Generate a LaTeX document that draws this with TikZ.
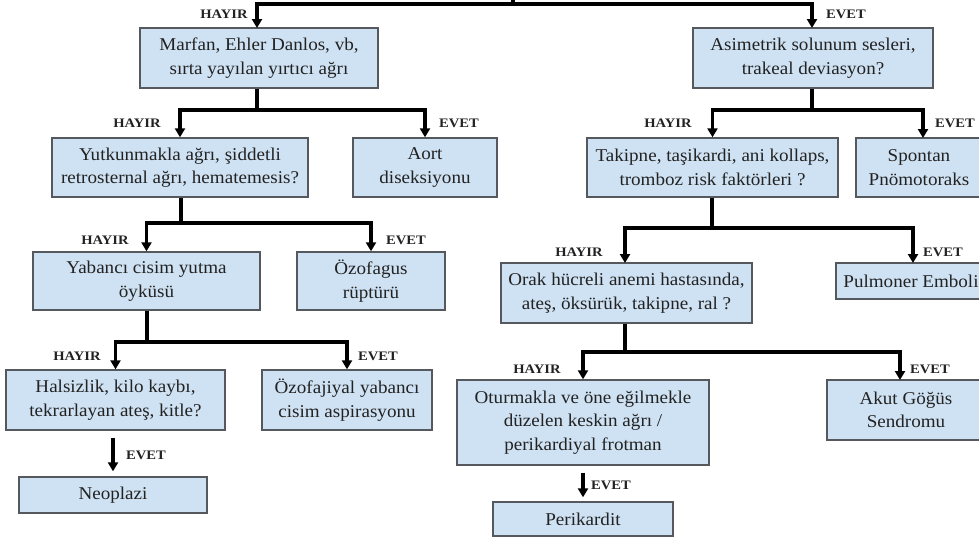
\documentclass[tikz,border=0pt]{standalone}
\usepackage{fontspec}
\setmainfont{Liberation Serif}
\newfontfamily\boxfont[FakeStretch=1.06]{Liberation Serif}
\newfontfamily\lblfont[FakeStretch=1.12]{Liberation Serif}
\usetikzlibrary{arrows.meta,calc}
\definecolor{boxfill}{HTML}{CFE2F3}
\definecolor{boxline}{HTML}{55595E}
\definecolor{txt}{HTML}{222222}
\tikzset{
  box/.style={draw=boxline, line width=1.4pt, fill=boxfill, align=center,
    inner sep=0pt, text=txt, font=\boxfont\fontsize{18}{23.5}\selectfont},
  conn/.style={line width=3.2pt, black},
  arr/.style={conn, -{Triangle[width=10pt,length=9pt]}},
  yn/.style={font=\lblfont\bfseries\fontsize{13}{13}\selectfont, text=txt, inner sep=0pt},
}
% place a box from its corners (x1,y1)-(x2,y2), in picture units
\newcommand{\boxat}[6]{%
  \node[box, minimum width={#4-#2}, minimum height={#5-#3}] (#1)
    at ({(#2+#4)/2},{(#3+#5)/2}) {#6};}
\begin{document}
\begin{tikzpicture}[x=1pt, y=-1pt]
\useasboundingbox (0,0) rectangle (979,538);

% boxes
\boxat{marfan}{140}{28}{378}{88}{Marfan, Ehler Danlos, vb,\\ sırta yayılan yırtıcı ağrı}
\boxat{asim}{693}{28}{933}{88}{Asimetrik solunum sesleri,\\ trakeal deviasyon?}
\boxat{yutk}{52}{138}{308}{197}{Yutkunmakla ağrı, şiddetli\\ retrosternal ağrı, hematemesis?}
\boxat{aort}{353}{138}{497}{197}{Aort\\ diseksiyonu}
\boxat{yabanci}{33}{252}{260}{310}{Yabancı cisim yutma\\ öyküsü}
\boxat{ozofagus}{297}{252}{445}{310}{Özofagus\\ rüptürü}
\boxat{halsiz}{6}{370}{225}{430}{Halsizlik, kilo kaybı,\\ tekrarlayan ateş, kitle?}
\boxat{ozofaj}{262}{370}{432}{430}{Özofajiyal yabancı\\ cisim aspirasyonu}
\boxat{neopl}{19}{477}{207}{513}{Neoplazi}
\boxat{takip}{587}{138}{838}{197}{Takipne, taşikardi, ani kollaps,\\ tromboz risk faktörleri ?}
\boxat{spont}{856}{138}{982}{197}{Spontan\\ Pnömotoraks}
\boxat{orak}{501}{263}{752}{323}{Orak hücreli anemi hastasında,\\ ateş, öksürük, takipne, ral ?}
\boxat{pulm}{836}{263}{986}{299}{Pulmoner Emboli}
\boxat{oturm}{457}{380}{709}{465}{Oturmakla ve öne eğilmekle\\ düzelen keskin ağrı /\\ perikardiyal frotman}
\boxat{akut}{827}{380}{985}{440}{Akut Göğüs\\ Sendromu}
\boxat{perik}{493}{502}{673}{536}{Perikardit}

% branching connectors
\coordinate (top) at (513,-3);
\coordinate (j0) at (513,4);
\draw[conn] (top) -- (j0);
\draw[arr] (j0) -| (257,28);
\draw[arr] (j0) -| (812,28);

\coordinate (j1) at (257,110);
\draw[conn] (marfan.south -| j1) -- (j1);
\draw[arr] (j1) -| (yutk.north);
\draw[arr] (j1) -| (aort.north);

\coordinate (j2) at (181,223);
\draw[conn] (yutk.south -| j2) -- (j2);
\draw[arr] (j2) -| (yabanci.north);
\draw[arr] (j2) -| (ozofagus.north);

\coordinate (j3) at (147,342);
\draw[conn] (yabanci.south -| j3) -- (j3);
\draw[arr] (j3) -| (halsiz.north);
\draw[arr] (j3) -| (ozofaj.north);

\draw[arr] ($(neopl.north |- halsiz.south)+(0,7)$) -- ($(neopl.north)+(0,-5)$);

\coordinate (j4) at (812,110);
\draw[conn] (asim.south -| j4) -- (j4);
\draw[arr] (j4) -| (takip.north);
\draw[arr] (j4) -| (923,138);

\coordinate (j5) at (712,228);
\draw[conn] (takip.south -| j5) -- (j5);
\draw[arr] (j5) -| (625,263);
\draw[arr] (j5) -| (913,263);

\coordinate (j6) at (625,352);
\draw[conn] (orak.south -| j6) -- (j6);
\draw[arr] (j6) -| (oturm.north);
\draw[arr] (j6) -| (900,380);

\draw[arr] ($(oturm.south)+(0,7)$) -- ($(perik.north)+(0,-4)$);

% branch labels
\node[yn] (l1) at (224,14) {HAYIR};
\node[yn] (l2) at (846,14) {EVET};
\node[yn] (l3) at (137,123) {HAYIR};
\node[yn] (l4) at (459,123) {EVET};
\node[yn] (l5) at (105,240) {HAYIR};
\node[yn] (l6) at (406,240) {EVET};
\node[yn] (l7) at (77,356) {HAYIR};
\node[yn] (l8) at (378,356) {EVET};
\node[yn] (l9) at (146,455) {EVET};
\node[yn] (l10) at (668,123) {HAYIR};
\node[yn] (l11) at (955,123) {EVET};
\node[yn] (l12) at (579,252) {HAYIR};
\node[yn] (l13) at (943,252) {EVET};
\node[yn] (l14) at (537,369) {HAYIR};
\node[yn] (l15) at (930,369) {EVET};
\node[yn] (l16) at (611,485) {EVET};
\end{tikzpicture}
\end{document}
